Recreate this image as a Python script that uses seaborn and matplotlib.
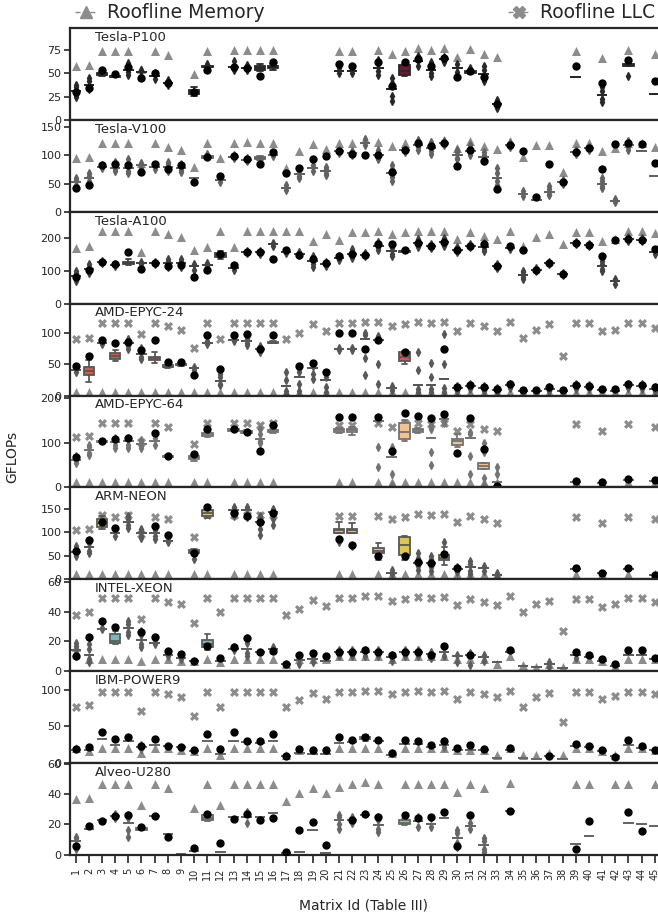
import colorsys
import numpy as np
import pandas as pd
import matplotlib
matplotlib.use("Agg")
import matplotlib.pyplot as plt
import matplotlib.colors as mcolors
from matplotlib.lines import Line2D
import seaborn as sns

N = np.nan
matrix_ids = [str(i) for i in range(1, 46)]

# ---------------- Tesla-P100 ----------------
p100_mem = [58, 59, 74, 74, 74, 55, 74, 70, N, 49, 74, N, 75, 75, 75, 75, N, N, N, N,
            74, 74, N, 75, 71, 74, 77, 75, 77, 67, 76, 71, 67, N, N, N, N, N, 74, N,
            66, N, 75, N, 71]
p100_dot = [30, 34, 54, 49, 57, 45, 50, 40, N, 30, 54, N, 57, 56, 47, 62, N, N, N, N,
            60, 58, N, 62, 36, 62, 65, 58, 66, 46, 52, 46, 17, N, N, N, N, N, 58, N,
            40, N, 64, N, 42]
p100_box = [
    [31, 31, 31, 31, 31, 25, 27, 35, 37], [38, 38, 38, 38, 38, 33, 35, 42, 45],
    [47, 48, 49, 50, 51], [46, 46, 47, 47, 48], [54, 54, 54, 54, 54, 48, 51, 58, 61],
    [51, 51, 51, 47, 54], [47, 47, 47, 44, 50], [40, 40, 40, 38, 43], [],
    [26, 28, 30, 32, 35], [55, 57, 57, 58, 60], [], [57, 57, 57, 54, 63],
    [56, 56, 56, 53, 59], [52, 54, 56, 58, 60], [54, 56, 57, 58, 60], [], [], [], [],
    [52, 52, 52, 50, 56], [52, 52, 52, 50, 56], [], [56, 56, 56, 56, 56, 48, 52, 60, 64],
    [33, 33, 33, 33, 33, 20, 26, 40, 45], [47, 48, 52, 59, 60], [63, 63, 63, 58, 68],
    [54, 54, 54, 54, 54, 47, 50, 58, 62], [65, 65, 65, 62, 67], [56, 56, 56, 51, 60],
    [49, 50, 51, 52, 56], [49, 49, 49, 49, 49, 42, 45, 53, 58], [17, 17, 17, 13, 21],
    [], [], [], [], [], [46], [], [27, 27, 27, 27, 27, 19, 23, 31, 35], [],
    [47, 58, 59, 60, 61], [], [28],
]

# ---------------- Tesla-V100 ----------------
v100_mem = [95, 97, 122, 122, 122, 87, 122, 115, 110, 79, 122, 95, 122, 124, 122, 122,
            77, 107, 119, 111, 122, 122, 128, 124, 117, 122, 127, 124, 127, 112, 125,
            117, 111, 126, 97, 118, 118, 70, 121, 121, 107, 112, 121, 121, 115]
v100_dot = [43, 48, 82, 84, 82, 71, 85, 75, 82, 52, 97, 63, 99, 93, 84, 105, 69, 78, 93,
            99, 107, 103, 101, 100, 71, 109, 121, 117, 122, 81, 109, 89, 41, 118, 107,
            26, 85, 53, 106, 112, 75, 120, 121, 120, 86]
v100_box = [
    [52, 52, 52, 52, 52, 44, 48, 56, 59], [59, 59, 59, 59, 59, 52, 55, 64, 68],
    [79, 79, 79, 77, 82], [78, 78, 78, 78, 78, 72, 75, 83, 88],
    [78, 78, 78, 78, 78, 68, 73, 86, 93], [82, 82, 82, 78, 87], [79, 79, 79, 76, 83],
    [79, 79, 79, 79, 79, 72, 75, 84, 88], [77, 77, 77, 77, 77, 70, 74, 81, 85], [59],
    [93, 96, 97, 98, 102], [57, 57, 57, 53, 61], [97, 97, 97, 95, 100],
    [92, 92, 92, 89, 95], [92, 94, 95, 97, 99], [100, 100, 100, 98, 102],
    [43, 43, 43, 39, 47], [67, 67, 67, 67, 67, 60, 63, 72, 76], [77, 77, 77, 73, 82],
    [72, 72, 72, 72, 72, 66, 69, 76, 80], [107, 107, 107, 104, 110],
    [104, 104, 104, 101, 107], [122, 122, 122, 118, 128],
    [100, 100, 100, 100, 100, 93, 96, 105, 109], [68, 68, 68, 68, 68, 55, 61, 76, 82],
    [109, 109, 109, 106, 111], [118, 118, 118, 118, 118, 110, 114, 123, 127],
    [112, 112, 112, 112, 112, 103, 107, 118, 123], [121, 121, 121, 118, 125],
    [100, 100, 100, 100, 100, 93, 96, 106, 110], [108, 108, 108, 108, 108, 101, 104, 113, 118],
    [97, 97, 97, 97, 97, 90, 93, 101, 105], [60, 60, 60, 60, 60, 48, 54, 68, 78],
    [118, 118, 118, 115, 121], [32, 32, 32, 28, 37], [21],
    [36, 36, 36, 36, 36, 29, 32, 41, 45], [53, 53, 53, 50, 56], [106, 106, 106, 103, 109],
    [112, 112, 112, 110, 114], [50, 50, 50, 50, 50, 42, 46, 55, 60], [20, 20, 20, 17, 23],
    [118, 118, 118, 118, 118, 110, 114, 122, 126], [107], [64],
]

# ---------------- Tesla-A100 ----------------
a100_mem = [170, 175, 220, 220, 220, 156, 220, 212, 202, 164, 171, 220, 171, 220, 220,
            220, 220, 220, 190, 212, 195, 217, 217, 222, 212, 218, 222, 222, 222, 197,
            218, 207, 197, 222, 175, 202, 212, 180, 218, 218, 192, 197, 222, 222, 215]
a100_dot = [80, 103, 126, 122, 156, 105, 124, 114, 119, 81, 101, 150, 119, 156, 156, 135,
            164, 149, 136, 124, 146, 152, 149, 180, 180, 164, 185, 175, 187, 164, 175,
            180, 114, 175, 164, 104, 124, 91, 185, 177, 144, 195, 197, 195, 166]
a100_box = [
    [83, 83, 83, 83, 83, 70, 76, 92, 100], [105, 105, 105, 105, 105, 92, 98, 112, 120],
    [126, 126, 126, 123, 129], [119, 119, 119, 116, 122], [118, 121, 124, 128, 137],
    [124, 124, 124, 120, 128], [124, 124, 124, 120, 128],
    [124, 124, 124, 124, 124, 112, 118, 130, 136], [124, 124, 124, 124, 124, 112, 118, 130, 136],
    [114, 114, 114, 104, 122], [119, 119, 119, 115, 123], [135, 142, 148, 155, 160],
    [109, 109, 109, 102, 115], [156, 156, 156, 153, 159], [156, 156, 156, 152, 160],
    [180, 180, 180, 174, 186], [156, 156, 156, 153, 159], [152, 152, 152, 148, 156],
    [129, 129, 129, 129, 129, 112, 120, 138, 145], [122, 122, 122, 116, 128],
    [139, 139, 139, 132, 146], [152, 152, 152, 152, 152, 140, 146, 160, 166],
    [149, 149, 149, 145, 155], [175, 175, 175, 175, 175, 162, 168, 182, 188],
    [160, 160, 160, 160, 160, 145, 152, 170, 176], [156, 158, 160, 161, 162],
    [185, 185, 185, 185, 185, 172, 178, 192, 198], [175, 175, 175, 170, 182],
    [187, 187, 187, 187, 187, 175, 180, 194, 200], [164, 164, 164, 158, 172],
    [175, 175, 175, 171, 180], [172, 172, 172, 172, 172, 160, 165, 178, 184],
    [114, 114, 114, 108, 120], [169, 169, 169, 165, 172],
    [88, 88, 88, 88, 88, 76, 82, 95, 100], [104, 104, 104, 99, 109],
    [124, 124, 124, 120, 128], [91, 91, 91, 88, 94], [185, 185, 185, 182, 188],
    [177, 177, 177, 174, 180], [114, 114, 114, 114, 114, 98, 106, 122, 130],
    [68, 68, 68, 60, 76], [197, 197, 197, 192, 202], [195, 195, 195, 190, 200],
    [156, 156, 156, 150, 162],
]

# ---------------- AMD-EPYC-24 ----------------
e24_mem = [6] * 45
e24_llc = [90, 92, 115, 115, 115, 98, 115, 110, 105, 76, 115, 90, 115, 115, 115, 115, 90,
           100, 113, 103, 115, 115, 117, 117, 111, 113, 117, 115, 117, 103, 115, 111, 103,
           117, 92, 105, 113, 63, 115, 115, 102, 105, 115, 115, 108]
e24_dot = [47, 63, 89, 83, 85, 73, 88, 54, 54, 32, 96, 42, 96, 98, 74, 96, N, 47, 51, 38,
           100, 100, 74, 89, N, 70, N, N, 74, 14, 17, 14, 11, 18, 9, 9, 13, 9, 17, 15, 11,
           10, 18, 17, 13]
e24_box = [
    [40, 40, 40, 37, 43], [22, 32, 39, 46, 57], [84, 84, 84, 82, 86], [55, 58, 63, 67, 72],
    [84, 84, 84, 84, 84, 74, 79, 88, 90], [66, 66, 66, 66, 66, 58, 62, 71, 75],
    [52, 57, 59, 62, 69], [44, 45, 46, 48, 49], [47, 48, 49, 50, 51], [43, 43, 43, 41, 45],
    [84, 84, 84, 82, 86], [23, 23, 23, 23, 23, 16, 19, 30, 35], [88, 88, 88, 86, 90],
    [86, 86, 86, 86, 86, 80, 83, 90, 92], [74, 74, 74, 70, 78], [83, 84, 84, 85, 86],
    [15, 15, 15, 15, 15, 3, 8, 25, 38], [30, 30, 30, 30, 30, 8, 18, 37, 42],
    [43, 43, 43, 43, 43, 27, 35, 47, 49], [24, 24, 24, 24, 24, 6, 14, 30, 36],
    [74, 74, 74, 72, 76], [74, 74, 74, 72, 76], [90, 90, 90, 90, 90, 32, 60, 97, 100],
    [89, 89, 89, 89, 89, 18, 50, 92, 95], [12, 12, 12, 9, 15], [50, 55, 62, 69, 71],
    [16, 16, 16, 16, 16, 5, 10, 40, 70], [16, 16, 16, 16, 16, 5, 10, 30, 52],
    [27, 27, 27, 27, 27, 5, 12, 50, 98], [12, 12, 12, 8, 15], [15, 15, 15, 11, 18],
    [12, 12, 12, 8, 15], [9, 9, 9, 6, 12], [16, 16, 16, 12, 19], [7], [7],
    [11, 11, 11, 8, 14], [7], [15, 15, 15, 11, 18], [13, 13, 13, 10, 16], [9], [8],
    [16, 16, 16, 12, 19], [15, 15, 15, 11, 18], [11, 11, 11, 8, 14],
]

# ---------------- AMD-EPYC-64 ----------------
e64_mem = [11, 11, 11, 11, 11, 11, 11, 11, N, 11, 11, N, 11, 11, 11, 11, N, N, N, N,
           11, 11, N, 11, 11, 11, 11, 11, 11, 11, 11, 11, 11, N, N, N, N, N, 11, N,
           11, N, 11, N, 11]
e64_llc = [113, 115, 145, 145, 145, 101, 145, 135, N, 98, 145, N, 145, 145, 140, 145, N,
           N, N, N, 140, 140, N, 145, 136, 145, 145, 143, 145, 127, 143, 130, 127, N, N,
           N, N, N, 143, N, 127, N, 143, N, 135]
e64_dot = [68, N, 105, 109, 111, N, 121, 70, N, 75, 132, N, 131, 125, 82, 140, N, N, N, N,
           157, 157, N, 157, 82, 167, 159, 155, 165, 78, 155, 86, 2, N, N, N, N, N, 15, N,
           11, N, 19, N, 17]
e64_box = [
    [61, 61, 61, 61, 61, 55, 58, 66, 70], [84, 84, 84, 84, 84, 72, 78, 90, 95],
    [101, 101, 102, 103, 104], [101, 101, 101, 101, 101, 88, 95, 106, 110],
    [103, 103, 103, 103, 103, 88, 95, 108, 111], [98, 98, 98, 98, 98, 88, 93, 103, 106],
    [105, 105, 105, 95, 110], [69, 69, 70, 71, 72], [], [60, 64, 67, 70, 73],
    [112, 116, 119, 122, 126], [], [126, 127, 128, 130, 131], [122, 123, 125, 126, 128],
    [109, 109, 109, 109, 109, 100, 104, 120, 130], [122, 124, 126, 128, 130], [], [], [], [],
    [122, 125, 128, 130, 133], [118, 125, 128, 131, 135], [],
    [148, 148, 148, 148, 148, 45, 90, 152, 155], [67, 67, 67, 67, 67, 5, 30, 78, 90],
    [105, 109, 125, 144, 150], [122, 125, 128, 130, 134],
    [111, 111, 111, 111, 111, 50, 80, 130, 140], [154, 154, 154, 154, 154, 145, 148, 158, 162],
    [90, 95, 103, 109, 120], [111, 111, 111, 111, 111, 30, 70, 120, 125],
    [5, 20, 42, 44, 48, 52, 54, 80, 100], [13, 13, 13, 13, 13, 1, 5, 30, 45],
    [], [], [], [], [], [13], [], [9], [], [17], [], [15],
]

# ---------------- ARM-NEON ----------------
arm_mem = [12, 12, 12, 12, 12, 12, 12, 12, N, 12, 12, N, 12, 12, 12, 12, N, N, N, N,
           12, 12, N, 12, 12, 12, 12, 12, 12, 12, 12, 12, 12, N, N, N, N, N, 12, N,
           12, N, 12, N, 12]
arm_llc = [105, 108, 137, 132, 137, 96, 132, 128, N, 89, 137, N, 137, 137, 137, 137, N, N,
           N, N, 134, 134, N, 135, 128, 132, 139, 137, 139, 121, 134, 128, 119, N, N, N,
           N, N, 132, N, 119, N, 132, N, 128]
arm_dot = [61, 84, 123, 109, N, N, 114, 94, N, 56, 155, N, 141, 134, 121, 141, N, N, N, N,
           85, 73, N, 49, N, 49, 37, 34, 54, 23, N, N, N, N, N, N, N, N, 23, N, 14, N,
           23, N, 9]
arm_box = [
    [58, 58, 58, 58, 58, 50, 54, 64, 70], [69, 69, 69, 69, 69, 55, 60, 78, 84],
    [108, 112, 120, 128, 135], [98, 98, 98, 92, 104], [121, 121, 121, 121, 121, 110, 115, 128, 135],
    [98, 98, 98, 98, 98, 88, 93, 103, 108], [98, 98, 98, 98, 98, 86, 92, 104, 110],
    [81, 81, 81, 79, 84], [], [42, 55, 59, 62, 64], [130, 134, 141, 147, 150], [],
    [148, 148, 148, 148, 148, 135, 140, 152, 155], [148, 148, 148, 148, 148, 133, 138, 152, 155],
    [121, 121, 121, 121, 121, 95, 108, 130, 135], [144, 144, 144, 144, 144, 115, 128, 148, 150],
    [], [], [], [], [80, 98, 104, 108, 122], [70, 98, 104, 108, 120], [],
    [40, 55, 61, 66, 77], [14, 14, 14, 10, 20], [40, 51, 73, 89, 92],
    [35, 35, 35, 35, 35, 20, 28, 45, 55], [34, 34, 34, 34, 34, 18, 25, 42, 50],
    [30, 37, 41, 43, 45, 48, 52, 68, 80], [21, 21, 21, 16, 25],
    [25, 25, 25, 25, 25, 10, 18, 32, 38], [23, 23, 23, 18, 28], [9, 9, 9, 4, 13],
    [], [], [], [], [], [21], [], [14], [], [21], [], [9],
]

# ---------------- INTEL-XEON ----------------
intel_mem = [16, 8, 8, 8, 8, 7, 8, 8, 7, 7, 8, 6, 8, 8, 8, 8, 4.5, 8, 8, 8, 10, 10, 10,
             10, 8, 10, 10, 10, 10, 8, 8, 8, 5, 10, 4, 3, 4.5, 2.5, 8, 8, 7, 3.5, 8, 8, 8]
intel_llc = [38, 39.5, 49, 49, 49, 35, 49, 46.5, 45, 32.5, 49, 39.5, 49, 49, 49, 49, 37.7,
             42, 47.7, 44, 49, 49, 50.7, 50.7, 47, 48.8, 50, 49, 50, 44.6, 48.8, 46.5,
             44.6, 50.7, 39.5, 45, 47, 26.7, 48.8, 48.8, 43, 45, 49, 49, 46.5]
intel_dot = [10, 23, 34, 30, N, 26, 23, 13.5, 11.5, 7, 17, 9, 16, 22.5, 13, 13.5, 4.7,
             10.5, 12, 10, 13, 13, 14, 13, 10.5, 13, 12.5, 10.5, 17, N, 11, N, N, 14, N,
             N, N, N, 13, 10.5, 8, 4.5, 14, 14, 9]
intel_box = [
    [14, 14, 14, 14, 14, 10, 12, 17, 19], [11, 11, 11, 11, 11, 6, 8, 15, 18],
    [28.5, 28.5, 28.5, 28, 29], [18, 19, 20, 25, 27], [29, 29, 29, 29, 29, 24, 26, 32, 34],
    [21, 21, 21, 21, 21, 16, 18, 24, 27], [19, 19, 19, 18, 21], [11, 11, 11, 10, 12],
    [9, 9, 9, 8, 10], [7], [14, 16, 18, 21, 25], [6.5], [15, 15, 15, 14, 16],
    [15, 15, 15, 15, 15, 10, 12, 19, 22], [12.8], [15, 15, 15, 14, 16], [4.7],
    [7.4, 7.4, 7.4, 5, 9], [8, 8, 8, 6, 10], [7], [12.8, 12.8, 12.8, 10, 14],
    [12.8, 12.8, 12.8, 10, 14], [12.8, 12.8, 12.8, 10, 14], [12.8, 12.8, 12.8, 10, 14],
    [9.3, 9.3, 9.3, 7, 11], [12.8, 12.8, 12.8, 10, 14], [12.5, 12.5, 12.5, 10, 14],
    [11.6, 11.6, 11.6, 9, 13], [12.8, 12.8, 12.8, 10, 16], [9.8, 9.8, 9.8, 6, 11],
    [10.5, 10.5, 10.5, 4, 12], [9.3, 9.3, 9.3, 7, 11], [5.8], [12.8], [3.5], [2.8],
    [4.7, 4.7, 4.7, 3, 6], [2.3], [11, 11, 11, 9, 12], [9.3], [7], [3.5], [10.5],
    [10.5], [8],
]

# ---------------- IBM-POWER9 ----------------
ibm_mem = [20, 16, 20, 20, 20, 14, 20, 20, 18, 16, 20, 11, 20, 20, 20, 20, 11, 18, 18, 18,
           20, 20, 20, 20, 13, 20, 20, 20, 20, 18, 18, 18, 11, 20, 11, 11, 13, 11, 20, 20,
           16, 11, 20, 20, 18]
ibm_llc = [77, 79.5, 97, 97, 97, 70.5, 97, 94, 90, 64.5, 97, 77, 97, 97, 97, 97, 76, 85.5,
           95.5, 87, 97, 97, 98.6, 98.6, 94, 97, 98.6, 97, 98.6, 87.7, 97, 94, 90, 98.6,
           77, 90, 95.5, 55.5, 97, 97, 87, 91, 97, 97, 94]
ibm_dot = [19, 21.8, 42, 32.7, 35.5, 23.6, 32, 23.6, 21.8, 18, 40, 19, 42, 29.5, 29.5, 40,
           9, 19, 17, 18, 35, 31, 36, 31, 13.6, 31, 29.5, 25, 29.5, 20, 25, 19, N, 20, N,
           N, 9, N, 26, 23.6, 18, 8, 31, 23.6, 18]
ibm_box = [
    [18], [17], [32], [25], [29.5], [22, 22, 22, 19, 25], [25], [23.6], [21.8], [16],
    [29.5], [11.4], [30.5], [28], [27], [29.5], [9], [13.6], [11.4], [12.7], [27], [28],
    [30, 32, 34, 36, 38], [29.5], [10], [26.4], [26.4], [21.8], [25, 25, 25, 21, 30],
    [18], [18], [17], [6.8], [17], [6.8], [5.5], [9], [5.5], [23.6], [21.8], [16], [9],
    [25], [20.5], [18],
]

# ---------------- Alveo-U280 ----------------
alveo_mem = [36.7, 37.4, 47, 47, 47, 33, 47, 44, N, 30.8, 47, 33, 47, 47, 47, 47, 35.8,
             40.7, 44.4, 41, 44.6, 46.6, 48, 47, N, 46.6, 47, 47, 47, 41.8, 46.6, 44.4, N,
             47.5, N, N, N, N, 46.6, 46.6, N, 46.6, 47, N, 46.6]
alveo_dot = [6, 19, 22.5, 25.5, 26, 18, 25.5, 11.5, N, 4.5, 27, 7.5, 23.5, 27, 23, 24.5,
             1.5, 16, 21.5, 6.5, N, 23, 27, 25, N, 26, 24, 25, 28.5, 6, 26.5, N, N, 29, N,
             N, N, N, 3.5, 22, N, N, 28.5, 15.4, N]
alveo_box = [
    [9, 9, 9, 9, 9, 4, 6, 11, 12], [17], [23], [25.5, 25.5, 25.5, 24, 27],
    [21, 21, 21, 21, 21, 12, 16, 24, 26], [16, 16.5, 17, 17.5, 18], [25.5], [13.5], [0.5],
    [2.5], [22, 23, 24, 26, 27], [1.5], [25], [25, 25, 25, 21, 28], [25], [27.5], [0.8],
    [2], [16], [1], [23, 23, 23, 23, 23, 17, 20, 25, 26], [23, 23, 23, 21, 25], [26.5],
    [19.5, 19.5, 19.5, 19.5, 19.5, 15, 17, 23, 25], [], [19.5, 20, 21, 23, 23.5],
    [22, 22, 22, 18, 25], [20.5, 20.5, 20.5, 18, 24], [24.5],
    [11, 11, 11, 11, 11, 5, 8, 14, 16], [19, 19, 19, 17, 21],
    [6.5, 6.5, 6.5, 6.5, 6.5, 2, 4, 9, 11], [], [29], [], [], [], [], [7], [12.5], [],
    [], [21], [20], [19],
]

# name, boxes, dots, memory roofline, LLC roofline, box colour, y ticks, y top
panels = [
    ("Tesla-P100", p100_box, p100_dot, p100_mem, None, "#6b1b30", [0, 25, 50, 75], 98),
    ("Tesla-V100", v100_box, v100_dot, v100_mem, None, "#c97fab", [0, 50, 100, 150], 162),
    ("Tesla-A100", a100_box, a100_dot, a100_mem, None, "#3f7d9e", [0, 100, 200], 279),
    ("AMD-EPYC-24", e24_box, e24_dot, e24_mem, e24_llc, "#d55a4e", [0, 50, 100], 146),
    ("AMD-EPYC-64", e64_box, e64_dot, e64_mem, e64_llc, "#f3c28e", [0, 100, 200], 206),
    ("ARM-NEON", arm_box, arm_dot, arm_mem, arm_llc, "#dcc84a", [0, 50, 100, 150], 196),
    ("INTEL-XEON", intel_box, intel_dot, intel_mem, intel_llc, "#7cb8b9", [0, 20, 40, 60], 62),
    ("IBM-POWER9", ibm_box, ibm_dot, ibm_mem, ibm_llc, "#a592c8", [0, 50, 100], 126),
    ("Alveo-U280", alveo_box, alveo_dot, alveo_mem, None, "#98c98b", [0, 20, 40, 60], 61),
]

marker_gray = "#8c8c8c"


def line_gray(color):
    r, g, b = mcolors.to_rgb(color)
    light = colorsys.rgb_to_hls(r, g, b)[1]
    return (light * 0.6,) * 3


sns.set_style("ticks")
plt.rcParams["font.family"] = ["DejaVu Sans"]
plt.rcParams["axes.linewidth"] = 1.6

fig, axes = plt.subplots(len(panels), 1, figsize=(6.58, 9.13), dpi=100, sharex=True)
fig.subplots_adjust(left=0.106, right=1.0, top=0.969, bottom=0.064, hspace=0)

for ax, (name, box, dot, mem, llc, color, yticks, ytop) in zip(axes, panels):
    lc = line_gray(color)
    rows = [(m, v) for m, vals in zip(matrix_ids, box) for v in vals]
    df = pd.DataFrame(rows, columns=["matrix", "gflops"])
    sns.boxplot(data=df, x="matrix", y="gflops", order=matrix_ids, color=color,
                saturation=1, linecolor=lc, linewidth=1.3, width=0.8,
                flierprops=dict(marker="d", markerfacecolor=lc, markeredgecolor=lc,
                                markersize=4), ax=ax)

    pts = pd.DataFrame({"matrix": matrix_ids, "mem": mem, "dot": dot})
    sns.stripplot(data=pts, x="matrix", y="mem", order=matrix_ids, jitter=False,
                  marker="^", color=marker_gray, size=6.5, linewidth=0, zorder=1.5, ax=ax)
    if llc is not None:
        pts["llc"] = llc
        sns.stripplot(data=pts, x="matrix", y="llc", order=matrix_ids, jitter=False,
                      marker="X", color=marker_gray, size=6.5, linewidth=0, zorder=1.5, ax=ax)
    sns.stripplot(data=pts, x="matrix", y="dot", order=matrix_ids, jitter=False,
                  marker="o", color="black", size=6, linewidth=0, zorder=4, ax=ax)

    ax.set_xlim(-0.45, 44.25)
    ax.set_ylim(0, ytop)
    ax.set_yticks(yticks)
    ax.set_xlabel("")
    ax.set_ylabel("")
    ax.spines["right"].set_visible(False)
    ax.tick_params(axis="y", labelsize=8, length=4, width=1.2, pad=2)
    ax.tick_params(axis="x", length=0)
    ax.text(0.043, 0.97, name, transform=ax.transAxes, ha="left", va="top", fontsize=9.5)

bottom = axes[-1]
bottom.tick_params(axis="x", length=6, width=1.2, labelsize=7, labelrotation=90)
bottom.set_xlabel("Matrix Id (Table III)", fontsize=10, labelpad=13)

fig.text(0.008, 0.5, "GFLOPs", rotation=90, va="center", ha="left", fontsize=10)

h_mem = Line2D([], [], color=marker_gray, ls="--", lw=1, marker="^", markersize=8,
               label="Roofline Memory")
h_llc = Line2D([], [], color=marker_gray, ls="--", lw=1, marker="X", markersize=8,
               label="Roofline LLC")
fig.legend(handles=[h_mem], loc="upper left", bbox_to_anchor=(0.088, 1.015), frameon=False,
           fontsize=13.5, handlelength=1.2, handletextpad=0.5)
fig.legend(handles=[h_llc], loc="upper right", bbox_to_anchor=(1.021, 1.015), frameon=False,
           fontsize=13.5, handlelength=1.2, handletextpad=0.5)

fig.savefig("out.png", dpi=100)
